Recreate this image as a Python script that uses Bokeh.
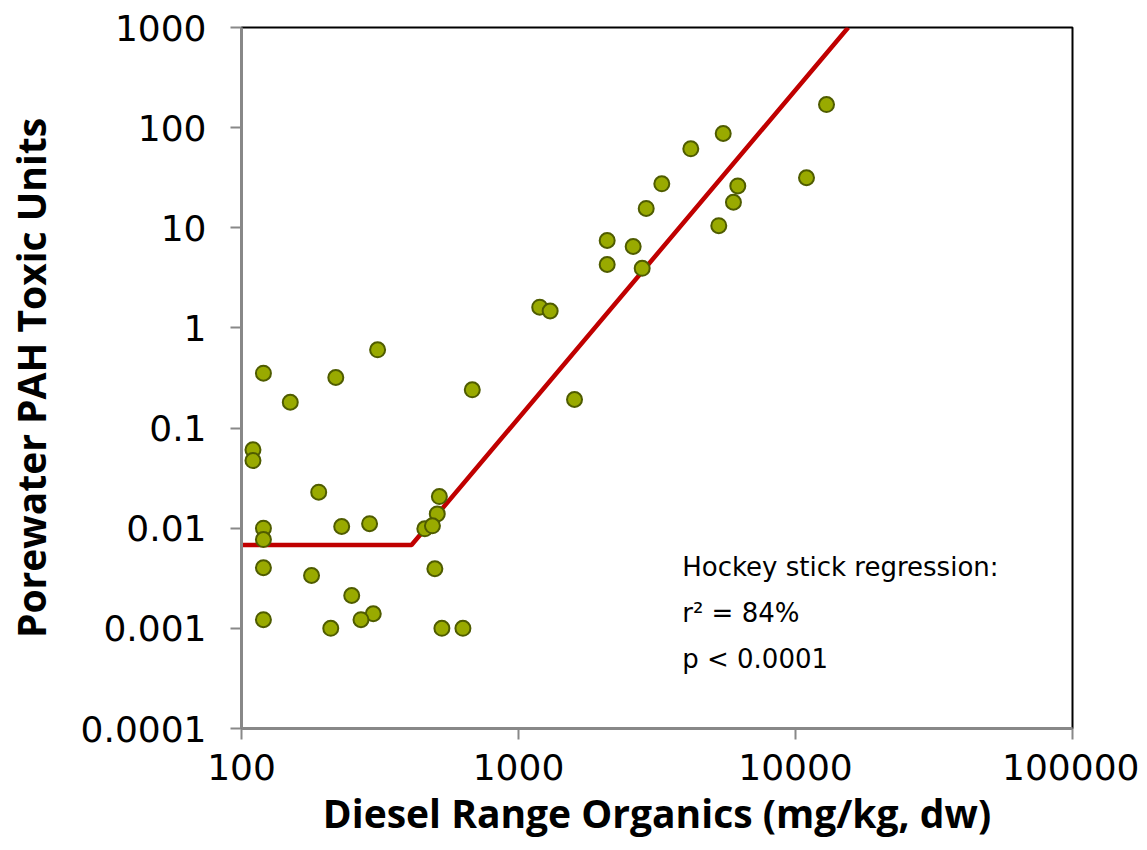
from bokeh.plotting import figure
from bokeh.models import ColumnDataSource, Label, FixedTicker
from bokeh.embed import file_html
from bokeh.resources import INLINE

# ---- data ----
dro = [120, 310, 219, 150, 681, 110, 110, 190, 518, 509, 120, 230, 290, 459, 489,
       120, 120, 179, 499, 250, 299, 270, 120, 210, 529, 630,
       1193, 1301, 1593, 12940, 5483, 4188, 3291, 2891, 6190, 5970, 10958, 5285,
       2090, 2594, 2090, 2796]
tu = [0.353, 0.605, 0.32, 0.181, 0.241, 0.0607, 0.0474, 0.0229, 0.0207, 0.0139, 0.0100,
      0.0104, 0.0111, 0.00987, 0.01057, 0.0077, 0.00403, 0.00337, 0.00394, 0.00213,
      0.0014, 0.00122, 0.00122, 0.001, 0.001, 0.001,
      1.61, 1.476, 0.193, 170, 87.4, 61.5, 27.5, 15.6, 26.2, 18.0, 31.6, 10.5,
      7.47, 6.5, 4.3, 3.94]

# hockey-stick regression line (flat segment, breakpoint, end at top of axis)
fit_x = [100, 411, 15500]
fit_y = [0.0068, 0.0068, 1000]

x_ticks = [100, 1000, 10000, 100000]
x_tick_labels = ["100", "1000", "10000", "100000"]
y_ticks = [0.0001, 0.001, 0.01, 0.1, 1, 10, 100, 1000]
y_tick_labels = ["0.0001", "0.001", "0.01", "0.1", "1", "10", "100", "1000"]

x_title = "Diesel Range Organics (mg/kg, dw)"
y_title = "Porewater PAH Toxic Units"

notes = ["Hockey stick regression:", "r\u00b2 = 84%", "p < 0.0001"]
note_x = [3900, 3900, 3900]
note_y = [0.00406, 0.00141, 0.000489]

p = figure(width=1139, height=842, x_axis_type="log", y_axis_type="log",
           x_range=(100, 100000), y_range=(0.0001, 1000),
           output_backend="svg", toolbar_location=None,
           min_border_left=241, min_border_right=67,
           min_border_top=27, min_border_bottom=114)

p.xgrid.visible = False
p.ygrid.visible = False
p.outline_line_color = "black"
p.outline_line_width = 2
p.background_fill_color = "white"
p.border_fill_color = "white"

p.line(fit_x, fit_y, line_color="#C00000", line_width=4.5)
src = ColumnDataSource(dict(x=dro, y=tu))
p.scatter("x", "y", source=src, size=15, fill_color="#99AA00",
          line_color="#4F5C00", line_width=2)

for ax, ticks, labels in ((p.xaxis[0], x_ticks, x_tick_labels), (p.yaxis[0], y_ticks, y_tick_labels)):
    ax.ticker = FixedTicker(ticks=ticks, minor_ticks=[])
    ax.major_label_overrides = {t: l for t, l in zip(ticks, labels)}
    ax.axis_line_color = "#888888"
    ax.axis_line_width = 3
    ax.major_tick_line_color = "#888888"
    ax.major_tick_line_width = 2
    ax.major_tick_out = 11
    ax.major_tick_in = 0
    ax.minor_tick_line_color = None
    ax.major_label_text_font = "DejaVu Sans"
    ax.major_label_text_font_size = "36px"
    ax.major_label_text_color = "black"
    ax.major_label_text_line_height = 1.0
    ax.axis_label_text_font = "Open Sans"
    ax.axis_label_text_font_style = "bold"
    ax.axis_label_text_font_size = "39px"
    ax.axis_label_text_color = "black"

p.xaxis.axis_label = x_title
p.yaxis.axis_label = y_title
p.xaxis.major_label_standoff = 14
p.yaxis.major_label_standoff = 24
p.xaxis.axis_label_standoff = 3
p.yaxis.axis_label_standoff = 21

for t, xx, yy in zip(notes, note_x, note_y):
    p.add_layout(Label(x=xx, y=yy, text=t, text_font="DejaVu Sans",
                       text_font_size="26px", text_color="black",
                       text_baseline="alphabetic"))

open("out.html", "w").write(file_html(p, INLINE))
